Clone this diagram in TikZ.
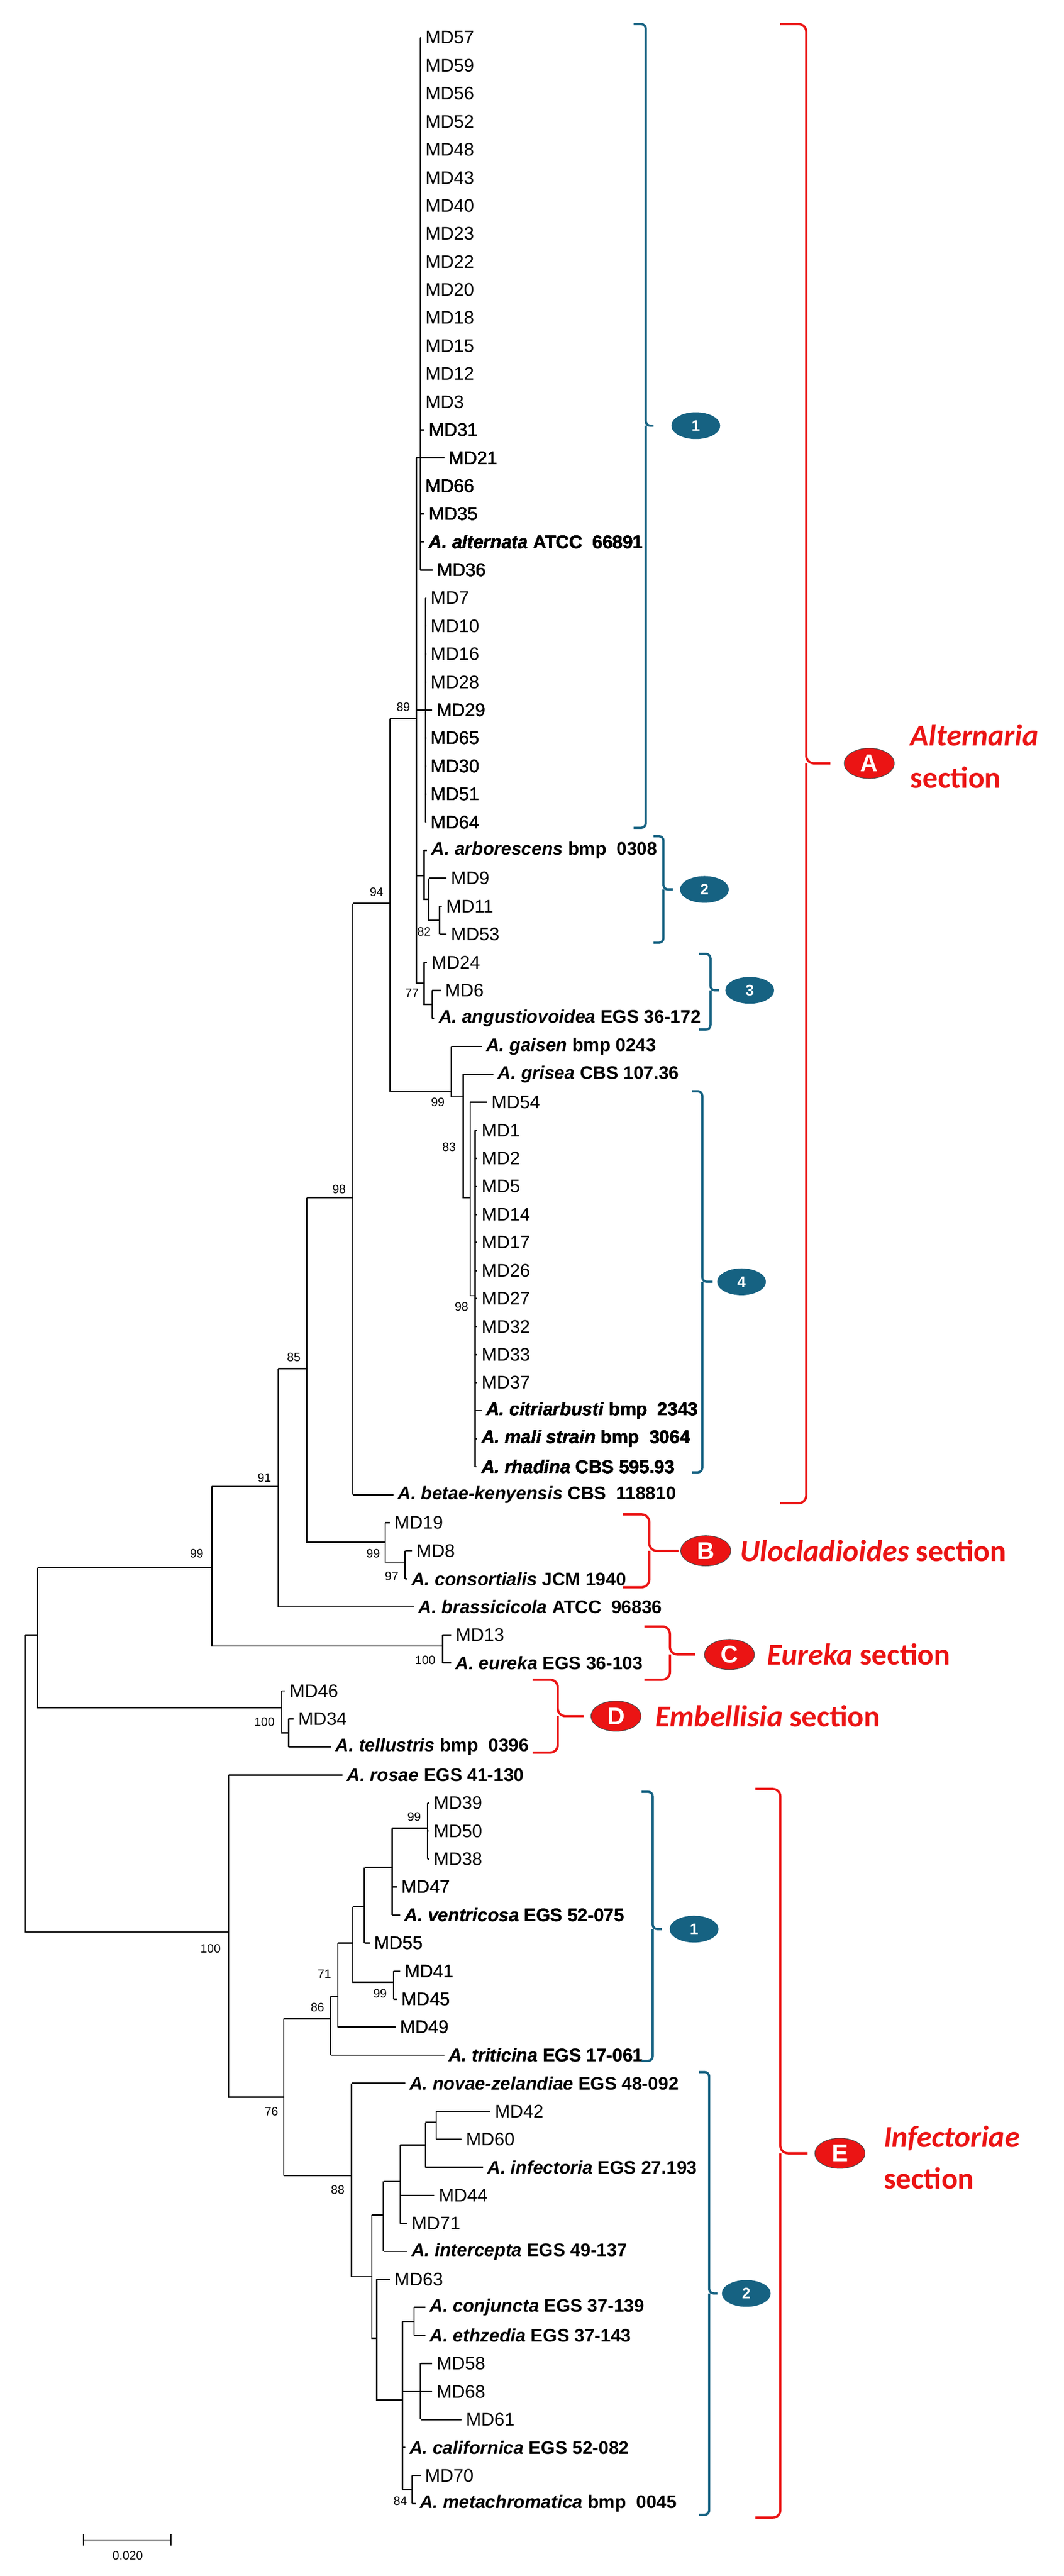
\documentclass[tikz,border=0pt]{standalone}
\usepackage{fontspec}
\setmainfont{Liberation Sans}
\newfontfamily\secfont{Carlito}
\usetikzlibrary{shapes.geometric, positioning}
\definecolor{teal1}{RGB}{22,98,130}
\definecolor{red1}{RGB}{235,20,20}
\newcommand\spn[2]{\textbf{\textit{#1} #2}}
% leaf: node x, tip x, row, name, text
\newcommand\lf[5]{\draw[br] (#1,#3) -- (#2,#3) node[tax] (#4) {#5};}
% bracket: style, x left, x right, top, bottom, mid, tick x
\newcommand\brk[7]{\draw[#1] (#2,#4) -- (#3,#4) -- (#3,#6) -- (#7,#6) (#3,#6) -- (#3,#5) -- (#2,#5);}

\begin{document}
\begin{tikzpicture}[
    x=0.01cm, y=-0.649cm,
    br/.style={line width=0.9pt},
    tax/.style={anchor=west, inner xsep=2.5pt, inner ysep=0pt, font=\fontsize{12}{14}\selectfont},
    bs/.style={font=\fontsize{8}{9}\selectfont, inner sep=0pt},
    tbr/.style={draw=teal1, line width=1.5pt, rounded corners=3pt},
    rbr/.style={draw=red1, line width=1.5pt, rounded corners=5pt},
    tel/.style={ellipse, fill=teal1, minimum width=1.13cm, minimum height=0.62cm, inner sep=0pt, text=white, font=\fontsize{10}{10}\selectfont\bfseries},
    rel/.style={ellipse, draw=black!70, fill=red1, minimum width=1.16cm, minimum height=0.70cm, inner sep=0pt, text=white, font=\fontsize{16}{16}\selectfont\bfseries},
    sec/.style={anchor=west, text=red1, inner sep=0pt, font=\secfont\fontsize{20}{22}\selectfont\bfseries},
]
\useasboundingbox (0,-1.34) rectangle (2466,90.585);

% Alternaria section, group 1
\foreach \n [count=\i from 0] in {57,59,56,52,48,43,40,23,22,20,18,15,12,3}
    \lf{974}{976}{\i}{md\n}{MD\n}
\lf{974}{984}{14}{md31}{MD31}
\lf{965}{1030}{15}{md21}{MD21}
\lf{974}{976}{16}{md66}{MD66}
\lf{974}{984}{17}{md35}{MD35}
\lf{974}{984}{18}{alt}{\spn{A. alternata}{ATCC~ 66891}}
\lf{974}{1003}{19}{md36}{MD36}
\draw[br] (974,0) -- (974,19) (965,15) -- (974,15);
\foreach \n [count=\i from 20] in {7,10,16,28}
    \lf{986}{988}{\i}{md\n}{MD\n}
\lf{986}{1002}{24}{md29}{MD29}
\foreach \n [count=\i from 25] in {65,30,51,64}
    \lf{986}{988}{\i}{md\n}{MD\n}
\draw[br] (986,20) -- (986,28) (965,24) -- (986,24);

% groups 2 and 3
\lf{983}{990}{29}{arb}{\spn{A. arborescens}{bmp~ 0308}}
\lf{994}{1035}{30}{md9}{MD9}
\lf{1019}{1024}{31}{md11}{MD11}
\lf{1019}{1035}{32}{md53}{MD53}
\draw[br] (1019,31) -- (1019,32) (994,30) -- (994,31.5) -- (1019,31.5)
    (983,29) -- (983,30.75) -- (994,30.75) (965,29.9) -- (983,29.9);
\lf{983}{990}{33}{md24}{MD24}
\lf{1002}{1022}{34}{md6}{MD6}
\lf{1002}{1007}{35}{ang}{\spn{A. angustiovoidea}{EGS 36-172}}
\draw[br] (1002,34) -- (1002,35) (983,33) -- (983,34.5) -- (1002,34.5)
    (965,33.75) -- (983,33.75) (965,15) -- (965,33.75);
\draw[br] (904,24.3) -- (965,24.3);

% group 4
\lf{1046}{1117}{36}{gai}{\spn{A. gaisen}{bmp 0243}}
\lf{1074}{1144}{37}{gri}{\spn{A. grisea}{CBS 107.36}}
\lf{1090}{1129}{38}{md54}{MD54}
\foreach \n [count=\i from 39] in {1,2,5,14,17,26,27,32,33,37}
    \lf{1101}{1106}{\i}{md\n}{MD\n}
\lf{1101}{1117}{49}{cit}{\spn{A. citriarbusti}{bmp~ 2343}}
\lf{1101}{1106}{50}{mal}{\spn{A. mali strain}{bmp~ 3064}}
\lf{1101}{1106}{51}{rha}{\spn{A. rhadina}{CBS 595.93}}
\draw[br] (1101,39) -- (1101,51) (1090,38) -- (1090,44.9) -- (1101,44.9)
    (1074,37) -- (1074,41.4) -- (1090,41.4) (1046,36) -- (1046,37.8) -- (1074,37.8)
    (904,24.3) -- (904,37.6) -- (1046,37.6);
\lf{818}{912}{52}{bet}{\spn{A. betae-kenyensis}{CBS~ 118810}}
\draw[br] (818,30.9) -- (818,52) (818,30.9) -- (904,30.9);

% Ulocladioides section
\lf{893}{904}{53}{md19}{MD19}
\lf{939}{955}{54}{md8}{MD8}
\lf{939}{944}{55}{con}{\spn{A. consortialis}{JCM 1940}}
\draw[br] (939,54) -- (939,55) (893,53) -- (893,54.4) -- (939,54.4)
    (711,41.4) -- (711,53.7) -- (893,53.7) (711,41.4) -- (818,41.4);
\lf{645}{960}{56}{bra}{\spn{A. brassicicola}{ATCC~ 96836}}
\draw[br] (645,47.5) -- (645,56) (645,47.5) -- (711,47.5);

% Eureka section
\lf{1026}{1046}{57}{md13}{MD13}
\lf{1026}{1046}{58}{eur}{\spn{A. eureka}{EGS 36-103}}
\draw[br] (1026,57) -- (1026,58) (491,51.7) -- (491,57.4) -- (1026,57.4)
    (491,51.7) -- (645,51.7);

% Embellisia section
\lf{653}{661}{59}{md46}{MD46}
\lf{669}{681}{60}{md34}{MD34}
\lf{669}{768}{61}{tel}{\spn{A. tellustris}{bmp~ 0396}}
\draw[br] (669,60) -- (669,61) (653,59) -- (653,60.5) -- (669,60.5)
    (87,54.6) -- (87,59.6) -- (653,59.6) (87,54.6) -- (491,54.6);

% Infectoriae section, group 1
\lf{530}{794}{62}{ros}{\spn{A. rosae}{EGS 41-130}}
\foreach \n [count=\i from 63] in {39,50,38}
    \lf{991}{995}{\i}{md\n}{MD\n}
\lf{909}{920}{66}{md47}{MD47}
\lf{909}{928}{67}{ven}{\spn{A. ventricosa}{EGS 52-075}}
\lf{845}{857}{68}{md55}{MD55}
\lf{912}{928}{69}{md41}{MD41}
\lf{912}{920}{70}{md45}{MD45}
\lf{783}{917}{71}{md49}{MD49}
\lf{766}{1030}{72}{tri}{\spn{A. triticina}{EGS 17-061}}
\draw[br] (991,63) -- (991,65) (909,63.9) -- (909,67) (909,63.9) -- (991,63.9)
    (845,65.3) -- (845,68) (845,65.3) -- (909,65.3)
    (912,69) -- (912,70) (818,66.7) -- (818,69.4) -- (912,69.4) (818,66.7) -- (845,66.7)
    (783,68) -- (783,71) (783,68) -- (818,68)
    (766,69.9) -- (766,72) (766,69.9) -- (783,69.9)
    (658,70.7) -- (658,76.3) (658,70.7) -- (766,70.7);

% group 2
\lf{815}{939}{73}{nov}{\spn{A. novae-zelandiae}{EGS 48-092}}
\lf{1011}{1137}{74}{md42}{MD42}
\lf{1011}{1070}{75}{md60}{MD60}
\lf{986}{1120}{76}{inf}{\spn{A. infectoria}{EGS 27.193}}
\lf{928}{1007}{77}{md44}{MD44}
\lf{928}{944}{78}{md71}{MD71}
\lf{889}{944}{79}{int}{\spn{A. intercepta}{EGS 49-137}}
\lf{873}{904}{80}{md63}{MD63}
\lf{960}{986}{81}{cnj}{\spn{A. conjuncta}{EGS 37-139}}
\lf{960}{986}{82}{eth}{\spn{A. ethzedia}{EGS 37-143}}
\lf{975}{1002}{83}{md58}{MD58}
\lf{933}{1002}{84}{md68}{MD68}
\lf{975}{1070}{85}{md61}{MD61}
\lf{933}{939}{86}{cal}{\spn{A. californica}{EGS 52-082}}
\lf{955}{975}{87}{md70}{MD70}
\lf{955}{963}{88}{met}{\spn{A. metachromatica}{bmp~ 0045}}
\draw[br] (1011,74) -- (1011,75) (986,74.4) -- (986,76) (986,74.4) -- (1011,74.4)
    (928,75.2) -- (928,78) (928,75.2) -- (986,75.2)
    (889,76.5) -- (889,79) (889,76.5) -- (928,76.5)
    (960,81) -- (960,82) (975,83) -- (975,85) (955,87) -- (955,88)
    (933,81.5) -- (933,87.5) (933,81.5) -- (960,81.5) (933,87.5) -- (955,87.5)
    (873,80) -- (873,84.3) -- (933,84.3)
    (862,77.7) -- (862,82.1) -- (873,82.1) (862,77.7) -- (889,77.7)
    (815,73) -- (815,79.9) -- (862,79.9) (658,76.3) -- (815,76.3)
    (530,62) -- (530,73.5) -- (658,73.5);

% root
\draw[br] (58,57) -- (58,67.6) -- (530,67.6) (58,57) -- (87,57);

% bootstrap values
\node[bs] (b89) at (935,23.9) {89};
\node[bs] (b82) at (983,31.9) {82};
\node[bs] (b77) at (955,34.1) {77};
\node[bs] (b94) at (873,30.5) {94};
\node[bs] (b99g) at (1015,38.0) {99};
\node[bs] (b83) at (1041,39.6) {83};
\node[bs] (b98g) at (1070,45.3) {98};
\node[bs] (b98) at (786,41.1) {98};
\node[bs] (b85) at (681,47.1) {85};
\node[bs] (b91) at (613,51.4) {91};
\node[bs] (b99u) at (865,54.1) {99};
\node[bs] (b97) at (908,54.9) {97};
\node[bs] (b99r) at (456,54.1) {99};
\node[bs] (b100e) at (986,57.9) {100};
\node[bs] (b100d) at (613,60.1) {100};
\node[bs] (b100i) at (488,68.2) {100};
\node[bs] (b99a) at (960,63.5) {99};
\node[bs] (b71) at (752,69.1) {71};
\node[bs] (b99b) at (881,69.8) {99};
\node[bs] (b86) at (736,70.3) {86};
\node[bs] (b76) at (629,74.0) {76};
\node[bs] (b88) at (783,76.8) {88};
\node[bs] (b84) at (928,87.9) {84};

% groups
\brk{tbr}{1469}{1497}{-0.48}{28.2}{13.85}{1515}
\node[tel] (g1) at (1613,13.85) {1};
\brk{tbr}{1515}{1538}{28.5}{32.3}{30.4}{1560}
\node[tel] (g2) at (1633,30.4) {2};
\brk{tbr}{1620}{1647}{32.7}{35.4}{34.0}{1667}
\node[tel] (g3) at (1738,34.0) {3};
\brk{tbr}{1604}{1628}{37.6}{51.2}{44.4}{1652}
\node[tel] (g4) at (1719,44.4) {4};
\brk{tbr}{1487}{1513}{62.6}{72.2}{67.5}{1534}
\node[tel] (ge1) at (1609,67.5) {1};
\brk{tbr}{1620}{1644}{72.6}{88.4}{80.5}{1663}
\node[tel] (ge2) at (1730,80.5) {2};

% sections
\brk{rbr}{1809}{1869}{-0.48}{52.3}{25.9}{1925}
\node[rel] (sa) at (2015,25.9) {A};
\node[sec] (ta) at (2110,24.9) {\itshape Alternaria};
\node[sec] (ta2) at (2110,26.4) {section};
\brk{rbr}{1444}{1505}{52.7}{55.3}{54.0}{1573}
\node[rel] (sb) at (1636,54.0) {B};
\node[sec] (tb) at (1715,54.0) {\itshape Ulocladioides\upshape\ section};
\brk{rbr}{1494}{1553}{56.7}{58.6}{57.7}{1612}
\node[rel] (sc) at (1691,57.7) {C};
\node[sec] (tc) at (1777,57.7) {\itshape Eureka\upshape\ section};
\brk{rbr}{1235}{1293}{58.6}{61.2}{59.9}{1353}
\node[rel] (sd) at (1428,59.9) {D};
\node[sec] (td) at (1518,59.9) {\itshape Embellisia\upshape\ section};
\brk{rbr}{1751}{1809}{62.5}{88.5}{75.5}{1872}
\node[rel] (se) at (1947,75.5) {E};
\node[sec] (te) at (2048,74.96) {\itshape Infectoriae};
\node[sec] (te2) at (2048,76.4) {section};

% scale bar
\draw[line width=0.7pt] (193,89.1) -- (193,89.5) (193,89.3) -- (396,89.3) (396,89.1) -- (396,89.5);
\node[bs] (sbar) at (296,89.85) {0.020};
\end{tikzpicture}
\end{document}
